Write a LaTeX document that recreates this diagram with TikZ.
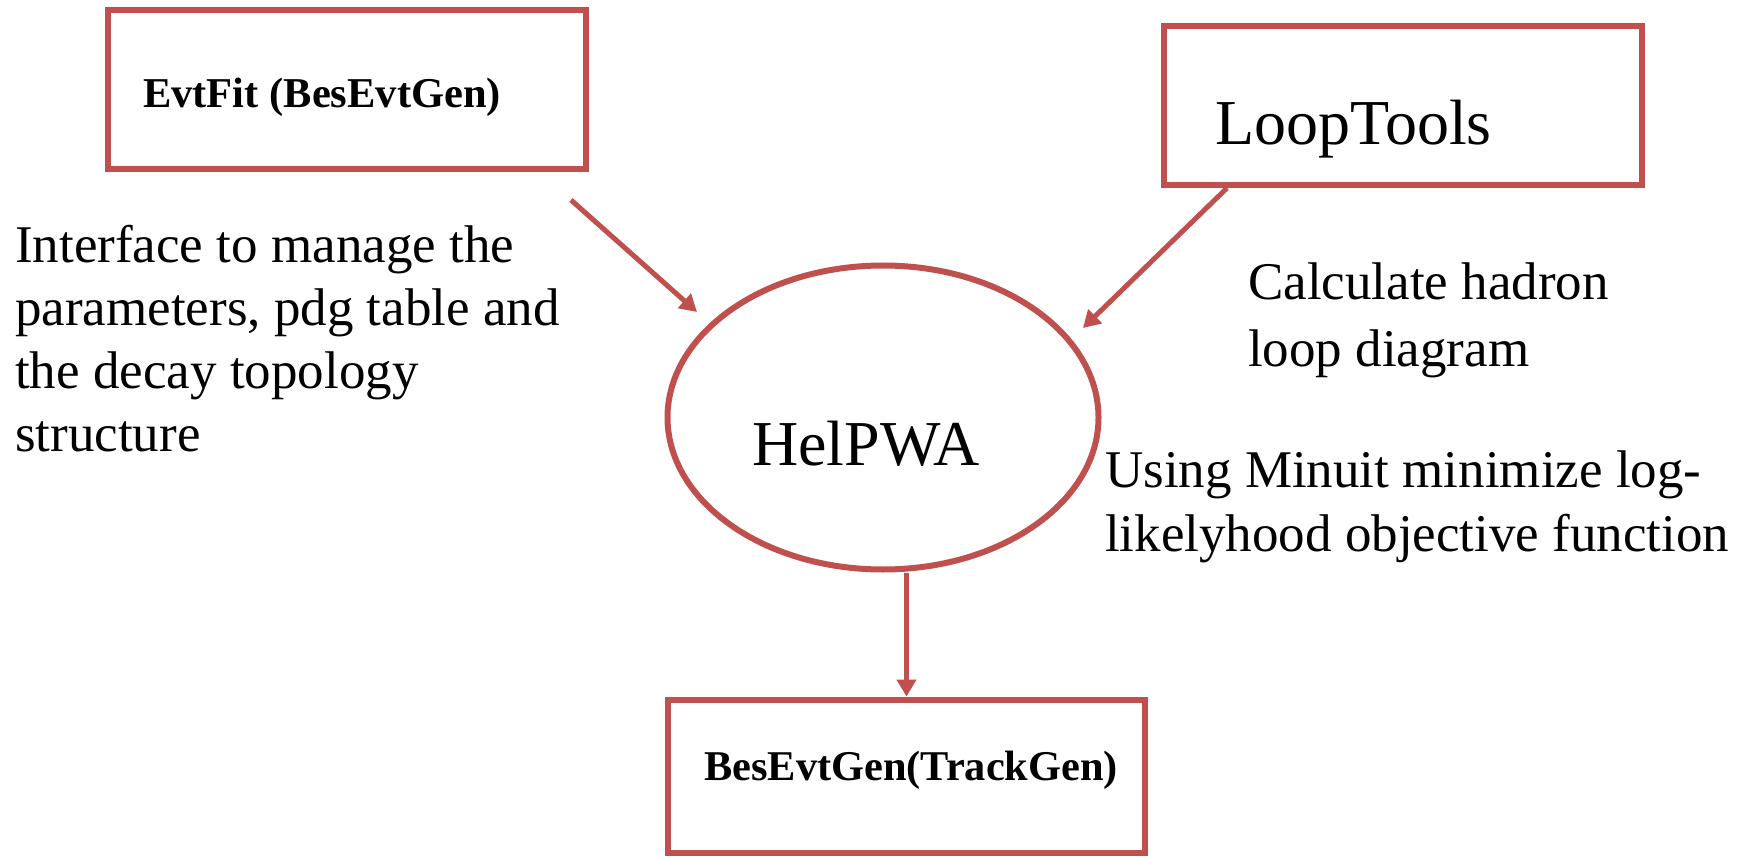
\documentclass[tikz,border=0pt]{standalone}
\usepackage{fontspec}
\setmainfont{Liberation Serif}
\usetikzlibrary{shapes.geometric,arrows.meta}
\definecolor{boxred}{HTML}{C0504D}
\begin{document}
\begin{tikzpicture}[x=1pt,y=-1pt,
  box/.style={draw=boxred, line width=6pt, inner sep=0pt, rectangle},
  oval/.style={draw=boxred, line width=6pt, inner sep=0pt, ellipse},
  arr/.style={draw=boxred, line width=5pt, -{Triangle[length=17pt,width=19pt]}},
  lbl/.style={inner sep=0pt, anchor=base west, text=black}]
\useasboundingbox (0,0) rectangle (1745,858);
% boxes and ellipse
\node[box, minimum width=478pt, minimum height=159pt] (b1) at (347,89.5) {};
\node[box, minimum width=478pt, minimum height=159pt] (b2) at (1403,105.5) {};
\node[box, minimum width=477pt, minimum height=153pt] (b3) at (906.5,776) {};
\node[oval, minimum width=431pt, minimum height=304pt] (hel) at (883,417.5) {};
% texts
\node[lbl, font=\bfseries\fontsize{42.5}{50}\selectfont] (t1) at (143,108) {EvtFit (BesEvtGen)};
\node[lbl, font=\fontsize{64}{76}\selectfont] (t2) at (1215,145) {LoopTools};
\node[lbl, font=\fontsize{64}{76}\selectfont] (t3) at (752,465) {HelPWA};
\node[lbl, font=\bfseries\fontsize{42.4}{50}\selectfont] (t4) at (704,780) {BesEvtGen(TrackGen)};
\node[lbl, font=\fontsize{53}{63}\selectfont] (d1) at (15,263)
  {\begin{tabular}[t]{@{}l@{}}Interface to manage the\\parameters, pdg table and\\the decay topology\\structure\end{tabular}};
\node[lbl, font=\fontsize{53}{67}\selectfont] (d2) at (1248,300)
  {\begin{tabular}[t]{@{}l@{}}Calculate hadron\\loop diagram\end{tabular}};
\node[lbl, font=\fontsize{53}{64}\selectfont] (d3) at (1105,487)
  {\begin{tabular}[t]{@{}l@{}}Using Minuit minimize log-\\likelyhood objective function\end{tabular}};
% connectors
\coordinate (a1s) at (571,200);
\coordinate (a1e) at (697,312);
\coordinate (a2e) at (1083,328);
\draw[arr] (a1s) -- (a1e);
\draw[arr] ([xshift=-176pt]b2.south) -- (a2e);
\draw[arr] ([xshift=23.5pt]hel.south) -- (b3.north);
\end{tikzpicture}
\end{document}
